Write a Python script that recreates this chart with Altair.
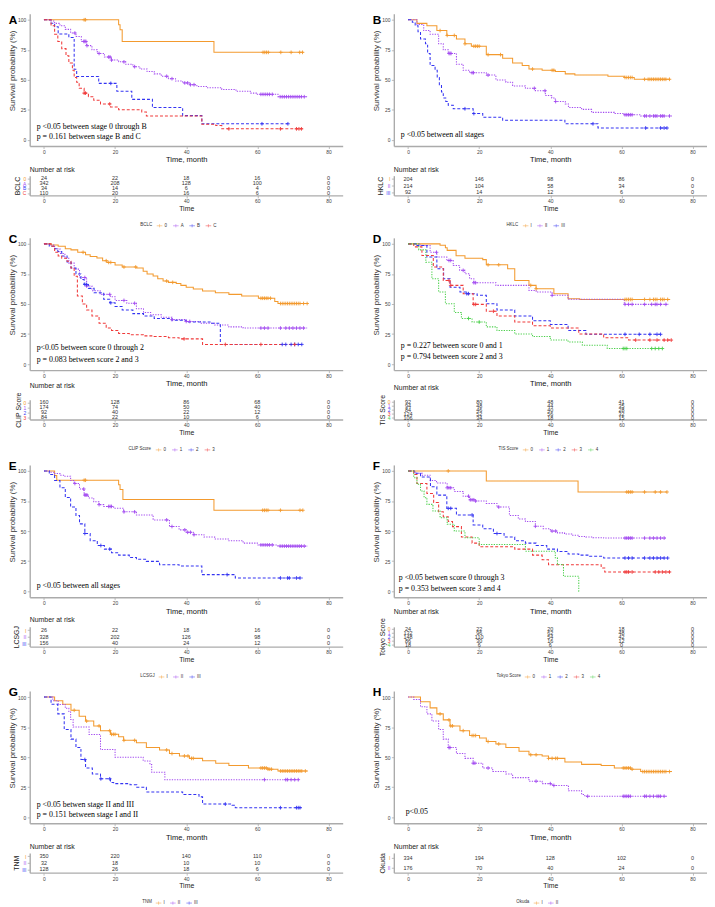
import altair as alt
import pandas as pd

ORANGE = "#F39A2E"; PURPLE = "#A34BF0"; BLUE = "#3434F2"; RED = "#F03A3A"; GREEN = "#4CD04C"
PALETTE = [ORANGE, PURPLE, BLUE, RED, GREEN]
DASHES = [[1, 0], [1.3, 1.3], [3, 2], [3, 2], [1.3, 1.3]]
RISK_TIMES = [0, 20, 40, 60, 80]
PLUS = "M-1,0L1,0M0,-1L0,1"
LEG_SYM = "M-1,0L1,0M0,-0.55L0,0.55"

# ---------------- Panel A : BCLC ----------------
A0_T = [0, 21.0, 21.4, 22.0, 47.8]
A0_S = [100, 95.8, 91.7, 82.0, 72.9]
A0_END = 73.0
A0_C = [11.3, 11.7, 61.6, 62.1, 62.6, 63.1, 66.6, 69.5, 71.9, 72.7]
A1_T = [0, 1.5, 3, 4.5, 6, 7.5, 9, 10.5, 12, 13.5, 15, 17, 19, 21, 23, 25, 27, 29, 31, 33, 35, 37, 39, 41, 43, 46, 50, 54, 58, 60, 65.8]
A1_S = [100, 99, 97, 95, 92, 89, 86, 82, 78.5, 75, 72, 69, 66.5, 65, 63, 61, 59, 57, 55, 53, 51, 49, 47.5, 46, 44.5, 43.5, 42, 40.5, 39, 38, 36]
A1_END = 74.2
A1_C = [8.7, 11.2, 11.5, 11.8, 12.1, 15.5, 18.2, 18.6, 19.0, 22.5, 25.5, 34.5, 36.0, 39.6, 40.4, 41.2, 42.2, 61.0, 61.6, 62.2, 62.8, 63.4, 64.2, 66.4, 67.0, 67.6, 68.2, 68.8, 69.4, 70.0, 70.6, 71.2, 71.8, 72.4, 73.2]
A2_T = [0, 2, 3, 4, 7, 8.5, 9.2, 15.4, 20.5, 24.7, 30.5, 39, 44.4]
A2_S = [100, 97.1, 94.1, 88.2, 85.3, 58.8, 52.9, 47.1, 40.6, 33.8, 27.0, 20.3, 13.5]
A2_END = 68.6
A2_C = [18.8, 61.3, 68.6]
A3_T = [0, 2, 3, 3.9, 5, 6.2, 7, 8, 8.5, 9.2, 9.9, 11.3, 12.5, 14, 15.9, 18.7, 21, 27.5, 28.8, 44.4, 48.3, 50]
A3_S = [100, 95, 88, 82, 76, 70, 64, 58, 52, 48, 43, 39, 36, 33, 30, 27.5, 25.2, 23.3, 20, 13.2, 12, 9.3]
A3_END = 72.8
A3_C = [11.3, 11.7, 18.5, 52, 66.5, 71.0, 71.7, 72.4]
A_R = [[24, 22, 18, 16, 0], [342, 208, 128, 100, 0], [34, 14, 6, 4, 0], [110, 20, 16, 6, 0]]

# ---------------- Panel B : HKLC ----------------
B0_T = [0, 2.5, 5.3, 8.1, 10.9, 13.6, 16, 17.8, 22, 26.6, 29.4, 32.1, 34, 37.7, 41.4, 44.2, 46.9, 56.2, 60.8, 63.6]
B0_S = [100, 97, 95, 91, 87, 84, 80, 78, 71, 68, 64, 62, 59, 58, 57, 55, 54, 53, 52, 50.5]
B0_END = 73.7
B0_C = [9, 11, 13, 16, 18.5, 19, 19.5, 20, 22.5, 26, 35, 40.5, 41, 61, 61.5, 62, 62.5, 63, 66.5, 67.5, 68, 68.5, 69, 69.5, 70, 70.5, 71, 71.5, 72, 72.5, 73.5]
B1_T = [0, 2.5, 4.4, 6.2, 8.6, 9.9, 11.3, 13.6, 15.5, 17.3, 22, 24.7, 27.5, 29.4, 33, 35.8, 38.6, 40.4, 41.4, 44.2, 45.1, 48.8, 51.6, 58, 60.8, 65.4]
B1_S = [100, 96, 91, 88, 80, 75, 72, 63, 58, 56, 54, 50, 48, 45, 43, 41, 37, 35, 32, 30, 27, 25.5, 23, 22, 21, 20]
B1_END = 74.2
B1_C = [11.5, 11.8, 12.1, 18, 18.4, 22.5, 35.5, 38.5, 41.5, 61, 61.5, 62, 62.5, 63, 66.5, 67, 68, 69, 69.5, 70, 71, 71.5, 72, 73.5]
B2_T = [0, 1.2, 2.0, 2.8, 3.5, 4.9, 5.5, 6.2, 7.6, 8.2, 8.8, 9.4, 9.9, 10.6, 11.3, 12.7, 18.3, 21, 26.6, 44.1, 53.4]
B2_S = [100, 98, 95, 90, 84, 80, 72, 62, 58, 52, 46, 40, 35, 32, 29, 26, 22, 19, 16.5, 13.5, 10]
B2_END = 72.8
B2_C = [16, 18.5, 52, 66.8, 71, 72, 72.8]
B_R = [[204, 146, 98, 86, 0], [214, 104, 58, 34, 0], [92, 14, 12, 6, 0]]

# ---------------- Panel C : CLIP Score ----------------
C0_T = [0, 2, 4, 6, 7.6, 9.5, 11.7, 13, 14.9, 16.5, 17.7, 20, 22, 26.1, 27.9, 29, 30.7, 32, 33.5, 35, 37.2, 38.5, 40, 42, 44.6, 48.2, 52, 55.6, 60.3, 64.9, 65.8]
C0_S = [100, 99, 98, 96, 95, 93, 91, 89.5, 88.2, 86, 84.6, 82.5, 80.8, 80, 77.3, 75, 73.2, 71, 69.1, 68, 67, 65.5, 64, 62.5, 60.8, 59.4, 58, 56.7, 54.8, 52.1, 50.4]
C0_END = 74.2
C0_C = [11, 17.5, 18.2, 18.8, 22.5, 25.8, 34.5, 36.2, 61, 61.5, 62, 62.5, 63, 63.7, 66.5, 67, 67.5, 68, 68.5, 69, 69.5, 70, 70.5, 71, 71.5, 72, 73, 74]
C1_T = [0, 1.5, 3, 4.5, 5.9, 7, 8.5, 10, 12, 13.5, 15.8, 18.7, 20, 23.3, 26, 28, 30, 33, 36, 40, 44, 48, 52, 56]
C1_S = [100, 99, 96, 92, 88, 84, 79, 72, 65, 61, 58, 56, 53, 50.6, 46, 43, 41, 39, 37, 35.5, 34, 32.5, 31, 30]
C1_END = 74
C1_C = [11.5, 12, 18.5, 22.5, 25.5, 36, 40, 41, 61, 62, 63, 66.5, 68, 69, 70, 71, 72, 73]
C2_T = [0, 1.5, 3, 3.9, 5, 6.5, 7.6, 9, 10.4, 11.3, 12.5, 14.1, 16.8, 18.5, 20, 22, 25, 28, 31, 36, 40, 47, 49.6]
C2_S = [100, 98, 96, 93.7, 90, 85, 80, 75, 70.4, 66.3, 63, 59.4, 54, 51, 48, 45, 42, 40, 38, 36.5, 35, 34, 16.4]
C2_END = 72.8
C2_C = [11.5, 12, 18.8, 67, 68, 69.5, 70.5, 71.5, 72.5]
C3_T = [0, 2, 3, 4, 5, 6.5, 7.6, 8.5, 9.4, 10.8, 12, 13.5, 15.5, 17.5, 19, 21, 24, 28, 31, 35, 38, 44.6]
C3_S = [100, 98, 93, 90, 88, 85.5, 80, 73, 56.7, 50, 45, 40, 34, 30, 28, 25.5, 24.5, 23.5, 23, 22, 21, 16.4]
C3_END = 70.6
C3_C = [39.4, 51, 61, 70.5]
C_R = [[160, 128, 86, 68, 0], [174, 74, 50, 40, 0], [92, 40, 22, 12, 0], [84, 22, 10, 6, 0]]

# ---------------- Panel D : TIS Score ----------------
D0_T = [0, 9, 10.5, 11, 13.5, 16, 21, 22, 28, 30, 34, 36, 41, 45, 48.3]
D0_S = [100, 98.9, 96.7, 94.6, 90.2, 88, 86.9, 82.6, 79.3, 69.6, 65.5, 62.7, 58.6, 54.4, 53.8]
D0_END = 73.7
D0_C = [22.5, 25.5, 34.5, 36, 61, 61.5, 62, 62.5, 63, 66.5, 68, 69, 69.5, 70, 71, 71.5, 72, 73]
D1_T = [0, 3.4, 6.2, 8.1, 10.9, 12.7, 14.5, 16, 17.3, 18.5, 24.7, 34, 36, 40.5, 45, 60.8]
D1_S = [100, 98.6, 93, 89, 86.2, 82, 78, 75.1, 71, 67.7, 65.5, 61.3, 60, 57.2, 53.9, 49.7]
D1_END = 73.3
D1_C = [8, 11.5, 12, 15.5, 18.5, 19, 40.5, 61, 62, 63, 66.5, 68.5, 69.5, 70, 71, 72.5]
D2_T = [0, 2.5, 5.3, 8.1, 10, 11.8, 14.6, 16.5, 19.4, 22, 25, 30, 35, 40, 45, 50]
D2_S = [100, 98.6, 89, 79.3, 71, 64, 60, 58.6, 57.2, 50.3, 45, 40, 36, 33, 28, 24.8]
D2_END = 71
D2_C = [16.5, 17, 61, 65, 68, 70, 71]
D3_T = [0, 1.6, 3.9, 7.1, 9.9, 11.8, 15.5, 18.3, 22, 25, 30, 35, 40, 48, 55, 62]
D3_S = [100, 97.5, 90.3, 80.7, 69.6, 65.5, 58.6, 49.7, 44, 40, 35, 32, 30, 25, 22, 20]
D3_END = 74
D3_C = [11.5, 12, 18.5, 19, 24, 64, 68, 70, 72, 73, 74]
D4_T = [0, 3, 5, 6.7, 8.6, 10.5, 13, 15, 18, 22, 25, 30, 35, 40, 45, 49, 56]
D4_S = [100, 95, 84.8, 71, 60, 50.3, 43, 38, 35, 31, 28, 25, 23, 20, 18.5, 15.7, 13]
D4_END = 71.5
D4_C = [17, 20, 60.5, 61, 61.5, 68.5, 69.5, 70.5, 71.5]
D_R = [[92, 80, 48, 41, 0], [94, 48, 44, 35, 0], [84, 46, 40, 28, 0], [124, 52, 56, 32, 0], [106, 34, 18, 15, 0]]

# ---------------- Panel E : LCSGJ ----------------
E0_T = [0, 3, 3.6, 21, 21.4, 22.2, 47.8]
E0_S = [100, 96.2, 92.3, 88.5, 84.6, 76.2, 67.3]
E0_END = 72.8
E0_C = [11.3, 11.7, 61.5, 62, 62.5, 63, 66.5, 72, 72.8]
E1_T = [0, 1.5, 3, 4.5, 5.9, 7.5, 8.5, 10, 11.3, 12.5, 14, 15.5, 16.8, 19.6, 22.4, 26, 30.7, 35.3, 38, 40, 42, 45, 48, 52, 56, 60, 65.8]
E1_S = [100, 99, 97.8, 96.5, 95.6, 92, 89.6, 85, 80, 77.5, 74.4, 72, 70.5, 69, 66, 63.4, 59.3, 53.8, 51, 49, 47, 45, 43.5, 42, 40, 38.5, 37.5]
E1_END = 74.2
E1_C = [8.7, 11.2, 11.5, 11.8, 12.1, 15.5, 18.2, 18.6, 19.0, 22.5, 25.5, 34.5, 36.0, 39.6, 40.4, 41.2, 42.2, 61.0, 61.6, 62.2, 62.8, 63.4, 64.2, 66.4, 67.0, 67.6, 68.2, 68.8, 69.4, 70.0, 70.6, 71.2, 71.8, 72.4, 73.2]
E2_T = [0, 1.5, 3, 4.5, 6, 7.5, 9, 10, 11.5, 13, 15, 17, 19, 21, 24, 26, 28.8, 32.5, 38, 44.4, 53.8]
E2_S = [100, 97, 92, 86, 78, 70, 63, 56, 48, 42, 38, 35, 32, 30, 28, 26.5, 24.8, 22, 21, 13.8, 11]
E2_END = 72.8
E2_C = [11.5, 16, 18.5, 51.5, 66.5, 68.5, 69, 71, 72]
E_R = [[26, 22, 18, 16, 0], [328, 202, 126, 98, 0], [156, 40, 24, 12, 0]]

# ---------------- Panel F : Tokyo Score ----------------
F0_T = [0, 22, 47.8]
F0_S = [100, 91.7, 82.5]
F0_END = 72.8
F0_C = [11.3, 61.5, 62, 62.5, 63, 66.5, 69.5, 71, 72.8]
F1_T = [0, 2, 4, 6.2, 8, 11, 13, 15.5, 17.3, 19, 22, 25, 28.5, 31, 33, 35.8, 38, 40, 42, 44, 46, 48, 50, 52, 55]
F1_S = [100, 98, 96.5, 92, 90, 86, 83, 79, 76, 75, 73, 70, 63, 60, 58, 54, 52, 50, 48.5, 47.5, 46.5, 45.5, 45, 44.5, 44.2]
F1_END = 72.8
F1_C = [11, 11.5, 12, 17, 17.5, 18, 18.5, 19, 25.5, 35.8, 40.5, 41.5, 61, 61.5, 62, 62.5, 63, 66.5, 68, 69, 70, 71, 72]
F2_T = [0, 1.7, 3.5, 6.3, 8.1, 10.9, 13.6, 18.3, 21, 24, 27, 30, 33, 36, 39, 42, 45, 48, 51, 55]
F2_S = [100, 98, 95, 86.8, 79.9, 68.9, 63.4, 55.1, 52, 48, 45, 42, 40, 38, 35, 33, 31, 30, 29, 27.6]
F2_END = 73
F2_C = [11.3, 12, 18, 25, 61, 62, 63, 66.5, 68, 69, 70, 71, 72, 73]
F3_T = [0, 1.6, 2.5, 5.3, 7.2, 8.6, 9.9, 11.3, 12.5, 15, 18, 20, 30, 35, 37.7, 39.5, 50.6, 54.3, 55.3]
F3_S = [100, 97, 89.5, 81.3, 73.8, 66, 62, 57.9, 53.7, 45, 40, 37, 35, 30, 26.2, 22, 22, 19.3, 16]
F3_END = 74.2
F3_C = [61, 61.5, 62, 63, 69.5, 70.5, 71.5, 72.5, 73.5]
F4_T = [0, 1.6, 2.5, 3.5, 4.5, 5.3, 7, 9, 11, 13, 16, 20, 33, 41.4, 42, 43.7, 48]
F4_S = [100, 94.4, 88.9, 83.3, 77.8, 72.2, 66.7, 61.1, 55.6, 50, 44.4, 38.9, 33.3, 27.8, 22.2, 12.4, 0]
F4_END = 48.3
F4_C = []
F_R = [[24, 22, 20, 18, 0], [132, 96, 62, 48, 0], [148, 110, 54, 42, 0], [86, 30, 16, 12, 0], [18, 6, 6, 0, 0]]

# ---------------- Panel G : TNM ----------------
G0_T = [0, 3, 5.3, 7.6, 9.9, 11.7, 14, 15.9, 18.7, 21, 22.4, 26, 28.8, 32.5, 35.3, 38.1, 40.9, 44.6, 48.3, 52, 57.5, 63, 65.8]
G0_S = [100, 97, 94, 89, 84, 80, 76, 72, 69, 67, 64, 62, 58, 56, 53, 51, 49, 47, 45, 43, 41, 40, 38.5]
G0_END = 74.2
G0_C = [8.5, 12, 15.5, 18.5, 19, 19.5, 20, 22.5, 25.5, 34.5, 36, 39.5, 40.5, 41.5, 42, 61, 61.5, 62, 62.5, 63, 63.5, 64, 66.5, 67, 67.5, 68, 68.5, 69, 69.5, 70, 70.5, 71, 71.5, 72, 72.5, 73.5]
G1_T = [0, 2.5, 4, 6, 7, 7.5, 8.2, 12.7, 15.9, 20, 27.9, 29.8, 30.3, 34]
G1_S = [100, 96.9, 93.8, 90.6, 87.5, 81.3, 75, 68.8, 56.3, 50, 46.9, 43.8, 37.5, 31.3]
G1_END = 71.8
G1_C = [62, 68, 68.5, 69.5, 70.5, 71.5]
G2_T = [0, 2, 3.9, 5.7, 7.6, 9, 10.4, 11.7, 13.6, 15.9, 18.7, 19.6, 24.2, 26.1, 28.8, 39, 43.6, 44.6, 52.9, 53.8]
G2_S = [100, 94, 86, 73, 65, 58, 48, 41, 36, 32, 29, 28, 27, 25, 21, 19, 17, 11, 10, 8]
G2_END = 72.8
G2_C = [11.5, 16, 18.5, 51, 66.5, 71, 71.5, 72]
G_R = [[350, 220, 140, 110, 0], [32, 18, 10, 10, 0], [128, 26, 18, 6, 0]]

# ---------------- Panel H : Okuda ----------------
H0_T = [0, 3.5, 6.2, 8.1, 9.9, 11.8, 14.6, 17.3, 20.1, 22, 24.7, 27.5, 31.2, 34, 37.7, 39.5, 44.1, 48.8, 54.3, 58, 62.6, 65.4]
H0_S = [100, 96, 91, 86, 81, 76, 72, 68, 66, 63, 61, 58, 55, 52, 51, 49, 46, 44, 43, 41, 40, 38]
H0_END = 74.2
H0_C = [9, 11.5, 12, 12.5, 15.5, 18, 18.5, 19, 22.5, 25.5, 34.5, 36, 39.5, 40.5, 41.5, 42, 60.5, 61, 61.5, 62, 62.5, 63, 66, 66.5, 67, 67.5, 68, 68.5, 69, 69.5, 70, 70.5, 71, 71.5, 72, 72.5, 73.5]
H1_T = [0, 1.6, 3.5, 5.3, 6.7, 8.6, 9.9, 11.3, 13.6, 16, 18.3, 21, 23.8, 27.5, 29.4, 34, 37.7, 40.5, 45.1, 48.8, 49.7]
H1_S = [100, 98, 92, 86, 80, 73, 65, 58, 53, 49, 45, 41, 38, 36, 33, 30, 28, 26.5, 22, 19, 17.5]
H1_END = 72.8
H1_C = [11.5, 11.8, 18.3, 18.8, 22.5, 36, 40, 41, 50.5, 60.5, 61, 61.5, 62, 62.5, 66.5, 67, 68, 69, 70, 70.5, 71, 72]
H_R = [[334, 194, 128, 102, 0], [176, 70, 40, 24, 0]]

PANELS = [
    dict(letter="A", strata="BCLC", groups=["0", "A", "B", "C"],
         curves=[(A0_T, A0_S, A0_END, A0_C), (A1_T, A1_S, A1_END, A1_C), (A2_T, A2_S, A2_END, A2_C), (A3_T, A3_S, A3_END, A3_C)],
         risk=A_R, ptext=["p <0.05 between stage 0 through B", "p = 0.161 between stage B and C"], px=7, py=[115, 125], legx=112),
    dict(letter="B", strata="HKLC", groups=["I", "II", "III"],
         curves=[(B0_T, B0_S, B0_END, B0_C), (B1_T, B1_S, B1_END, B1_C), (B2_T, B2_S, B2_END, B2_C)],
         risk=B_R, ptext=["p <0.05 between all stages"], px=7, py=[123], legx=114),
    dict(letter="C", strata="CLIP Score", groups=["0", "1", "2", "3"],
         curves=[(C0_T, C0_S, C0_END, C0_C), (C1_T, C1_S, C1_END, C1_C), (C2_T, C2_S, C2_END, C2_C), (C3_T, C3_S, C3_END, C3_C)],
         risk=C_R, ptext=["p<0.05 between score 0 through 2", "p = 0.083 between score 2 and 3"], px=7, py=[112, 124], legx=100),
    dict(letter="D", strata="TIS Score", groups=["0", "1", "2", "3", "4"],
         curves=[(D0_T, D0_S, D0_END, D0_C), (D1_T, D1_S, D1_END, D1_C), (D2_T, D2_S, D2_END, D2_C), (D3_T, D3_S, D3_END, D3_C), (D4_T, D4_S, D4_END, D4_C)],
         risk=D_R, ptext=["p = 0.227 between score 0 and 1", "p = 0.794 between score 2 and 3"], px=7, py=[110, 121], legx=106),
    dict(letter="E", strata="LCSGJ", groups=["I", "II", "III"],
         curves=[(E0_T, E0_S, E0_END, E0_C), (E1_T, E1_S, E1_END, E1_C), (E2_T, E2_S, E2_END, E2_C)],
         risk=E_R, ptext=["p <0.05 between all stages"], px=7, py=[123], legx=112),
    dict(letter="F", strata="Tokyo Score", groups=["0", "1", "2", "3", "4"],
         curves=[(F0_T, F0_S, F0_END, F0_C), (F1_T, F1_S, F1_END, F1_C), (F2_T, F2_S, F2_END, F2_C), (F3_T, F3_S, F3_END, F3_C), (F4_T, F4_S, F4_END, F4_C)],
         risk=F_R, ptext=["p <0.05 betwen score 0 through 3", "p = 0.353 between score 3 and 4"], px=5, py=[114.5, 126], legx=104),
    dict(letter="G", strata="TNM", groups=["I", "II", "III"],
         curves=[(G0_T, G0_S, G0_END, G0_C), (G1_T, G1_S, G1_END, G1_C), (G2_T, G2_S, G2_END, G2_C)],
         risk=G_R, ptext=["p <0.05 betwen stage II and III", "p = 0.151 between stage I and II"], px=7, py=[115.5, 126], legx=114),
    dict(letter="H", strata="Okuda", groups=["I", "II"],
         curves=[(H0_T, H0_S, H0_END, H0_C), (H1_T, H1_S, H1_END, H1_C)],
         risk=H_R, ptext=["p<0.05"], px=12, py=[123], legx=124),
]

# layout (plot-area gaps, pixels)
KM_H = 134
RISK_H = 20
KM_TO_RISK = 29.5
ROW_GAPS = [42.5, 45.8, 44.4]
COL_GAP = 51.8
LETTER_OFFSETS = [-13, -8, -8, -8]


def step_at(ts, ss, x):
    v = ss[0]
    for t, s in zip(ts, ss):
        if t <= x:
            v = s
    return v


ONE = pd.DataFrame({"k": [0]})
XSCALE = alt.Scale(domain=[-4, 84], nice=False, zero=False)


def build(p, letter_offset):
    groups = p["groups"]
    n = len(groups)
    cols = PALETTE[:n]
    line_rows, cens_rows, risk_rows = [], [], []
    for g, (ts, ss, end, cens), risk in zip(groups, p["curves"], p["risk"]):
        for t, s in zip(ts, ss):
            line_rows.append(dict(t=t, s=s, g=g))
        line_rows.append(dict(t=end, s=ss[-1], g=g))
        for c in cens:
            cens_rows.append(dict(t=c, s=step_at(ts, ss, c), g=g))
        for t, r in zip(RISK_TIMES, risk):
            risk_rows.append(dict(t=t, n=r, g=g))

    cscale = alt.Scale(domain=groups, range=cols)
    km_x = alt.X("t:Q", scale=XSCALE,
                 axis=alt.Axis(values=RISK_TIMES, title="Time, month", titleFontSize=7.6,
                               titlePadding=1.5, titleColor="#111", labelPadding=1))
    km_y = alt.Y("s:Q", scale=alt.Scale(domain=[-5, 105], nice=False, zero=False),
                 axis=alt.Axis(values=[0, 25, 50, 75, 100], title="Survival probability (%)",
                               titleFontSize=8, titlePadding=1, titleY=57.5, titleColor="#333",
                               labelPadding=1.5))
    lines = alt.Chart(pd.DataFrame(line_rows)).mark_line(
        interpolate="step-after", strokeWidth=1.05).encode(
        x=km_x, y=km_y,
        color=alt.Color("g:N", scale=cscale, legend=None),
        strokeDash=alt.StrokeDash("g:N", scale=alt.Scale(domain=groups, range=DASHES[:n]), legend=None))
    cens = alt.Chart(pd.DataFrame(cens_rows)).mark_point(
        shape=PLUS, filled=False, size=14, strokeWidth=0.9, opacity=1).encode(
        x=km_x, y=km_y, color=alt.Color("g:N", scale=cscale, legend=None))
    texts = [
        alt.Chart(ONE).mark_text(align="left", baseline="middle", font="Liberation Serif",
                                 fontSize=8, color="black").encode(
            x=alt.value(p["px"]), y=alt.value(yy), text=alt.value(txt))
        for txt, yy in zip(p["ptext"], p["py"])
    ]
    km = alt.layer(lines, cens, *texts).properties(
        width=317, height=KM_H,
        title=alt.TitleParams(text=p["letter"], anchor="start", frame="bounds", fontSize=12,
                              fontWeight="bold", offset=letter_offset, font="Liberation Sans",
                              color="black"))

    expr = "'#333'"
    for g, c in reversed(list(zip(groups, cols))):
        expr = f"datum.value === '{g}' ? '{c}' : ({expr})"
    risk_df = pd.DataFrame(risk_rows)
    r_x = alt.X("t:Q", scale=XSCALE,
                axis=alt.Axis(values=RISK_TIMES, title="Time", titleFontSize=7, titlePadding=1,
                              titleColor="#222", labelPadding=1))
    r_y = alt.Y("g:N", scale=alt.Scale(domain=groups), sort=groups,
                axis=alt.Axis(title=p["strata"], titleFontSize=7, titlePadding=2, labelPadding=1.5,
                              titleColor="#222", labelColor=alt.ExprRef(expr=expr)))
    rtext = alt.Chart(risk_df).mark_text(fontSize=5.5, color="#333", font="Liberation Sans").encode(
        x=r_x, y=r_y, text="n:Q")
    leg = alt.Chart(risk_df).transform_filter("false").mark_point(
        shape=LEG_SYM, filled=False, strokeWidth=0.7).encode(
        color=alt.Color("g:N", scale=cscale,
                        legend=alt.Legend(orient="none", legendX=p["legx"], legendY=47,
                                          direction="horizontal", title=p["strata"], titleOrient="left",
                                          titleFontSize=4.5, titleFontWeight="normal", titleColor="#333",
                                          titlePadding=3, labelFontSize=4.5, labelColor="#333",
                                          labelOffset=1.5, symbolType=LEG_SYM, symbolSize=32,
                                          symbolStrokeWidth=0.7, columnPadding=3.5, padding=0)))
    risk = alt.layer(rtext, leg).properties(
        width=317, height=RISK_H,
        title=alt.TitleParams("Number at risk", anchor="start", frame="group", fontSize=7,
                              fontWeight="normal", offset=3, color="#222", font="Liberation Sans"))
    return km, risk


def spacer(h):
    return alt.Chart(ONE).mark_point(opacity=0).encode(
        x=alt.value(0), y=alt.value(0)).properties(width=317, height=h)


cells = []
for r in range(4):
    kl, rl = build(PANELS[2 * r], LETTER_OFFSETS[r])
    kr, rr = build(PANELS[2 * r + 1], LETTER_OFFSETS[r])
    cells += [kl, kr, spacer(KM_TO_RISK), spacer(KM_TO_RISK), rl, rr]
    if r < 3:
        cells += [spacer(ROW_GAPS[r]), spacer(ROW_GAPS[r])]

chart = alt.concat(*cells, columns=2, spacing={"row": 0, "column": COL_GAP}, bounds="flush").resolve_scale(
    color="independent", strokeDash="independent").properties(
    padding={"left": 0, "top": 0, "right": 0, "bottom": 0}, background="white"
).configure_view(stroke=None).configure_axis(
    domainColor="#ABABAB", domainWidth=1.4, tickColor="#ABABAB", tickWidth=0.8, tickSize=2.5,
    labelColor="#444444", labelFontSize=5, labelFont="Liberation Sans",
    titleFont="Liberation Sans", titleFontWeight="normal", grid=False)

chart.save("out.html", embed_options={"renderer": "svg", "actions": False})
